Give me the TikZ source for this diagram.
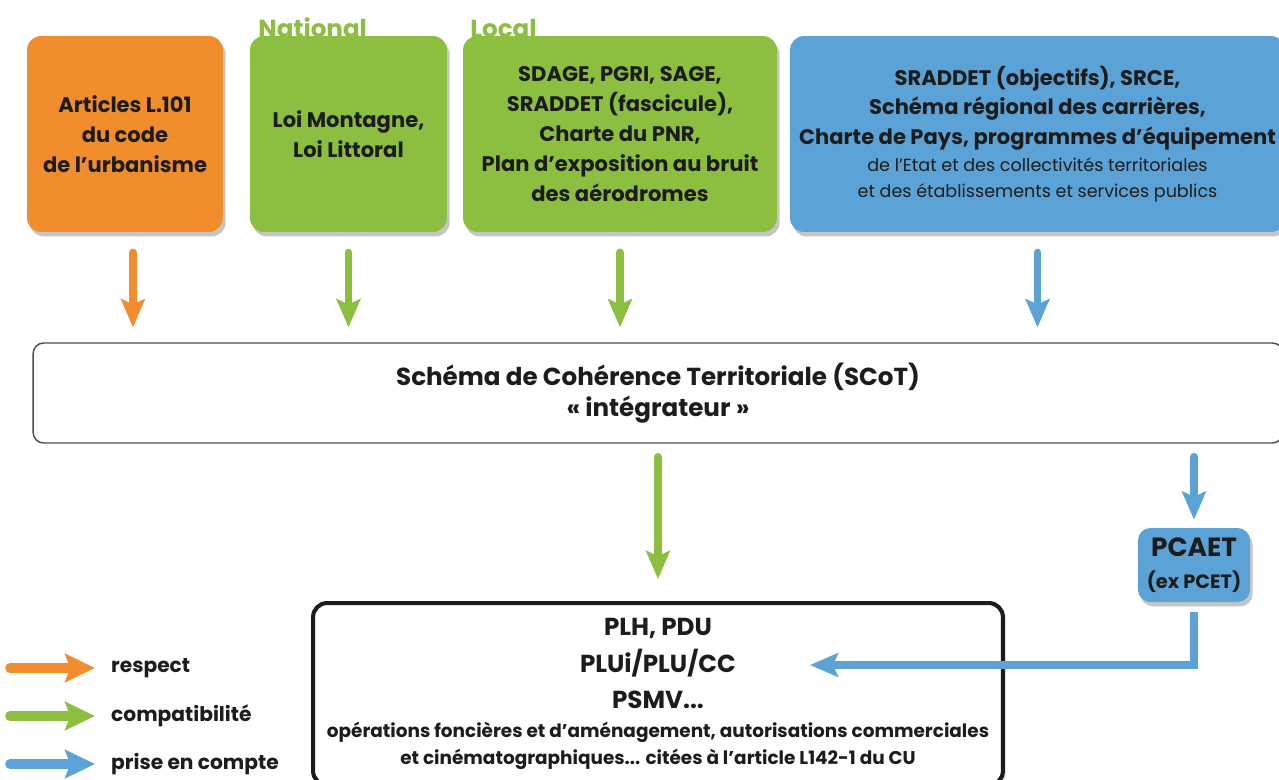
\documentclass[tikz,border=0pt]{standalone}
\usepackage{fontspec}
\setmainfont{Poppins}
\usetikzlibrary{arrows.meta,shadows}

\definecolor{orangeR}{HTML}{F18D2C}
\definecolor{greenC}{HTML}{8CBE3F}
\definecolor{blueP}{HTML}{5BA3D6}
\definecolor{inkT}{HTML}{1C1C1C}

\begin{document}
\begin{tikzpicture}[x=0.02cm, y=-0.02cm,
    topbox/.style={rounded corners=8pt, inner sep=0pt, align=center, text=inkT,
        font=\bfseries\fontsize{12}{17}\selectfont,
        drop shadow={shadow xshift=1.5pt, shadow yshift=-2.5pt, opacity=0.45}},
    flow/.style={line width=4.2pt, line cap=round, -{Stealth[width=13.5pt,length=16pt,inset=3pt]}},
    legarrow/.style={line width=5.5pt, line cap=round, -{Stealth[width=16pt,length=17pt,inset=3pt]}},
    legtext/.style={anchor=west, text=inkT, font=\bfseries\fontsize{11.5}{14}\selectfont},
    tag/.style={anchor=base west, inner sep=0pt, text=greenC, font=\bfseries\fontsize{14}{16}\selectfont}]
    \clip (0,0) rectangle (1279,779);
    \fill[white] (0,0) rectangle (1279,779);

    % --- Labels above the green boxes ---
    \node[tag] (national) at (258, 37) {National};
    \node[tag] (local) at (470, 37) {Local};

    % --- Top row of boxes ---
    \node[topbox, fill=orangeR, minimum width=3.92cm, minimum height=3.92cm] (articles) at (125, 134)
        {Articles L.101\\du code\\de l'urbanisme};
    \node[topbox, fill=greenC, minimum width=3.94cm, minimum height=3.92cm] (loi) at (348.5, 134)
        {Loi Montagne,\\Loi Littoral};
    \node[topbox, fill=greenC, minimum width=6.28cm, minimum height=3.92cm] (sdage) at (620, 134)
        {SDAGE, PGRI, SAGE,\\SRADDET (fascicule),\\Charte du PNR,\\Plan d'exposition au bruit\\des aérodromes};
    \node[topbox, fill=blueP, minimum width=9.9cm, minimum height=3.92cm] (sraddet) at (1037.5, 134)
        {SRADDET (objectifs), SRCE,\\Schéma régional des carrières,\\Charte de Pays, programmes d'équipement\\[-2pt]
         {\mdseries\fontsize{10}{14}\selectfont de l'Etat et des collectivités territoriales}\\[-2pt]
         {\mdseries\fontsize{10}{14}\selectfont et des établissements et services publics}};

    % --- SCoT ---
    \node[draw=black!70, line width=0.8pt, rounded corners=6pt, minimum width=25cm, minimum height=2cm,
        align=center, text=inkT, font=\bfseries\fontsize{14}{18}\selectfont] (scot) at (658, 393)
        {Schéma de Cohérence Territoriale (SCoT)\\« intégrateur »};

    % --- PCAET and documents below ---
    \node[topbox, fill=blueP, rounded corners=7pt, minimum width=2.24cm, minimum height=1.48cm,
        font=\bfseries\fontsize{15}{18}\selectfont] (pcaet) at (1194, 565)
        {PCAET\\{\fontsize{11}{13}\selectfont (ex PCET)}};
    \node[draw=inkT, fill=white, line width=2.3pt, rounded corners=8pt, minimum width=13.8cm, minimum height=3.64cm,
        align=center, text=inkT, font=\bfseries\fontsize{14}{20.5}\selectfont,
        drop shadow={shadow xshift=1.5pt, shadow yshift=-1.5pt, opacity=0.35}] (plu) at (658, 694)
        {PLH, PDU\\PLUi/PLU/CC\\PSMV...\\[-4pt]
         {\fontsize{10.5}{13.6}\selectfont opérations foncières et d'aménagement, autorisations commerciales}\\[-5pt]
         {\fontsize{10.5}{13.6}\selectfont et cinématographiques... citées à l'article L142-1 du CU}};
    \coordinate (tip) at (810, 665);

    % --- Arrows towards the SCoT ---
    \draw[flow, orangeR, shorten <=0.4cm, shorten >=0.3cm] ([xshift=0.16cm]articles.south) -- ([xshift=0.16cm]articles.south |- scot.north);
    \draw[flow, greenC, shorten <=0.4cm, shorten >=0.3cm] (loi.south) -- (loi.south |- scot.north);
    \draw[flow, greenC, shorten <=0.4cm, shorten >=0.3cm] (sdage.south) -- (sdage.south |- scot.north);
    \draw[flow, blueP, shorten <=0.4cm, shorten >=0.3cm] (sraddet.south) -- (sraddet.south |- scot.north);

    % --- Arrows out of the SCoT ---
    \draw[flow, greenC, shorten <=0.26cm, shorten >=0.44cm] (scot.south) -- (plu.north);
    \draw[flow, blueP, shorten <=0.26cm, shorten >=0.16cm] (pcaet.north |- scot.south) -- (pcaet.north);
    \draw[flow, blueP, line width=4.4pt, line cap=butt, shorten <=0.2cm] (pcaet.south) |- (tip);

    % --- Legend ---
    \node[legtext] (lrespect) at (105, 668) {respect};
    \node[legtext] (lcompat) at (105, 716) {compatibilité};
    \node[legtext] (lprise) at (105, 764) {prise en compte};
    \coordinate (t1) at (10, 668);
    \coordinate (t2) at (10, 716);
    \coordinate (t3) at (10, 764);
    \draw[legarrow, orangeR, shorten >=0.2cm] (t1) -- (lrespect.west);
    \draw[legarrow, greenC, shorten >=0.2cm] (t2) -- (lcompat.west);
    \draw[legarrow, blueP, shorten >=0.2cm] (t3) -- (lprise.west);
\end{tikzpicture}
\end{document}
